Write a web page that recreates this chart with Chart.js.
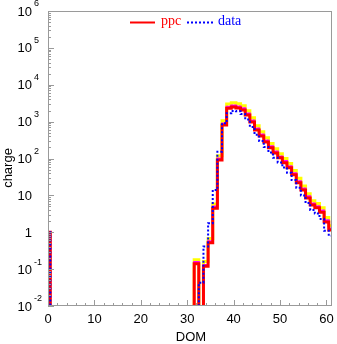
<!DOCTYPE html>
<html>
<head>
<meta charset="utf-8">
<script src="https://cdn.jsdelivr.net/npm/chart.js@4.4.1/dist/chart.umd.min.js"></script>
<style>
  body { margin: 0; background: #fff; }
  canvas { display: block; }
</style>
</head>
<body>
<canvas id="chart" width="337" height="344"></canvas>
<script>
// charge per DOM, one bin per DOM number (0..61)
const ppc = [
  1,
  0, 0, 0, 0, 0, 0, 0, 0, 0, 0,                          // 1-10
  0, 0, 0, 0, 0, 0, 0, 0, 0, 0,                          // 11-20
  0, 0, 0, 0, 0, 0, 0, 0, 0, 0,                          // 21-30
  0, 0.14, 0, 0.12, 0.52, 4.5, 91, 813, 2300, 2500,      // 31-40
  2350, 2080, 1510, 980, 590, 410, 280, 195, 142, 104,   // 41-50
  77, 56, 36, 22, 14, 8.5, 5.5, 4.6, 3.5, 1.9,           // 51-60
  1.15                                                   // 61
];
const data = [
  1,
  0, 0, 0, 0, 0, 0, 0, 0, 0, 0,
  0, 0, 0, 0, 0, 0, 0, 0, 0, 0,
  0, 0, 0, 0, 0, 0, 0, 0, 0, 0,
  0, 0, 0.043, 0.41, 1.75, 14, 153, 900, 1700, 1950,
  1900, 1600, 1150, 720, 440, 300, 205, 145, 105, 78,
  57, 41, 26, 16, 10, 6.2, 4.0, 3.2, 2.3, 1.1,
  0.8
];
// ppc upper / middle variations
const ppcHigh = [
  0,
  0, 0, 0, 0, 0, 0, 0, 0, 0, 0,
  0, 0, 0, 0, 0, 0, 0, 0, 0, 0,
  0, 0, 0, 0, 0, 0, 0, 0, 0, 0,
  0, 0.18, 0, 0.16, 0.68, 5.8, 118, 1060, 3000, 3250,
  3060, 2700, 1960, 1270, 770, 530, 365, 255, 185, 135,
  100, 73, 47, 29, 18, 11, 7.2, 6.0, 4.6, 2.5,
  1.5
];
const ppcMid = [
  0,
  0, 0, 0, 0, 0, 0, 0, 0, 0, 0,
  0, 0, 0, 0, 0, 0, 0, 0, 0, 0,
  0, 0, 0, 0, 0, 0, 0, 0, 0, 0,
  0, 0.155, 0, 0.13, 0.57, 5.0, 100, 895, 2530, 2750,
  2590, 2290, 1660, 1080, 650, 450, 308, 215, 156, 114,
  85, 62, 40, 24, 15.4, 9.4, 6.0, 5.1, 3.9, 2.1,
  1.27
];

const xTicks = [0, 10, 20, 30, 40, 50, 60];
const yTicks = [
  {value: 1e-2, base: '10', exp: '-2'},
  {value: 1e-1, base: '10', exp: '-1'},
  {value: 1, base: '1', exp: ''},
  {value: 10, base: '10', exp: ''},
  {value: 1e2, base: '10', exp: '2'},
  {value: 1e3, base: '10', exp: '3'},
  {value: 1e4, base: '10', exp: '4'},
  {value: 1e5, base: '10', exp: '5'},
  {value: 1e6, base: '10', exp: '6'}
];

const FLOOR = 1e-5; // empty bins drop below the axis

function steps(values) {
  const pts = [];
  values.forEach((v, dom) => {
    const y = v > 0 ? v : FLOOR;
    pts.push({x: dom - 0.5, y: y}, {x: dom + 0.5, y: y});
  });
  return pts;
}

const sans = '"Liberation Sans", Arial, sans-serif';
const serif = '"Liberation Serif", "Times New Roman", serif';

const axesPlugin = {
  id: 'axes',
  afterDatasetsDraw(chart) {
    const {ctx, chartArea: a, scales: {x, y}} = chart;
    ctx.save();
    ctx.strokeStyle = '#9a9a9a';
    ctx.lineWidth = 1;
    ctx.strokeRect(a.left + 0.5, a.top + 0.5, a.right - a.left - 1, a.bottom - a.top - 1);

    ctx.beginPath();
    for (let v = 0; v <= 60; v += 2) {
      const px = Math.round(x.getPixelForValue(v)) + 0.5;
      const len = v % 10 === 0 ? 6 : 3;
      ctx.moveTo(px, a.bottom);
      ctx.lineTo(px, a.bottom - len);
    }
    for (let e = -2; e < 6; e++) {
      for (let m = 1; m < 10; m++) {
        const py = Math.round(y.getPixelForValue(m * Math.pow(10, e))) + 0.5;
        const len = m === 1 ? 6 : 3;
        ctx.moveTo(a.left, py);
        ctx.lineTo(a.left + len, py);
      }
    }
    ctx.stroke();

    ctx.fillStyle = '#000';
    ctx.font = '13px ' + sans;
    ctx.textAlign = 'center';
    ctx.textBaseline = 'middle';
    xTicks.forEach(v => ctx.fillText(String(v), x.getPixelForValue(v), 319));

    yTicks.forEach(t => {
      const py = y.getPixelForValue(t.value);
      ctx.font = '13px ' + sans;
      ctx.textAlign = 'right';
      ctx.fillText(t.base, 32, py + 1);
      if (t.exp) {
        ctx.font = '9px ' + sans;
        ctx.textAlign = 'left';
        ctx.fillText(t.exp, 34, py - 7);
      }
    });

    ctx.font = '13px ' + sans;
    ctx.textAlign = 'center';
    ctx.fillText('DOM', 191, 337);
    ctx.save();
    ctx.translate(8, 168);
    ctx.rotate(-Math.PI / 2);
    ctx.fillText('charge', 0, 0);
    ctx.restore();

    // legend
    ctx.lineWidth = 2;
    ctx.strokeStyle = '#ff0000';
    ctx.beginPath();
    ctx.moveTo(130, 22.5);
    ctx.lineTo(155, 22.5);
    ctx.stroke();
    ctx.strokeStyle = '#0000ff';
    ctx.setLineDash([2, 2]);
    ctx.beginPath();
    ctx.moveTo(187, 22.5);
    ctx.lineTo(213, 22.5);
    ctx.stroke();
    ctx.setLineDash([]);
    ctx.font = '14px ' + serif;
    ctx.textAlign = 'left';
    ctx.fillStyle = '#ff0000';
    ctx.fillText('ppc', 161, 21);
    ctx.fillStyle = '#0000ff';
    ctx.fillText('data', 218, 21);
    ctx.restore();
  }
};

function stepLine(label, values, color, width, order, dash) {
  return {
    label: label,
    data: steps(values),
    borderColor: color,
    borderWidth: width,
    borderDash: dash || [],
    borderCapStyle: 'butt',
    borderJoinStyle: 'miter',
    pointRadius: 0,
    tension: 0,
    fill: false,
    clip: 0,
    order: order
  };
}

new Chart(document.getElementById('chart'), {
  type: 'line',
  data: {
    datasets: [
      stepLine('ppc high', ppcHigh, '#ffff00', 3, 4),
      stepLine('ppc mid', ppcMid, '#ff00ff', 2, 3),
      stepLine('ppc', ppc, '#ff0000', 3, 2),
      stepLine('data', data, '#0000ff', 2, 1, [2, 2])
    ]
  },
  options: {
    responsive: false,
    animation: false,
    devicePixelRatio: 1,
    layout: {padding: {left: 48, top: 11, right: 5, bottom: 38}},
    scales: {
      x: {type: 'linear', min: 0, max: 61.2, display: false},
      y: {type: 'logarithmic', min: 0.01, max: 1e6, display: false}
    },
    plugins: {
      legend: {display: false},
      tooltip: {enabled: false}
    }
  },
  plugins: [axesPlugin]
});
</script>
</body>
</html>
